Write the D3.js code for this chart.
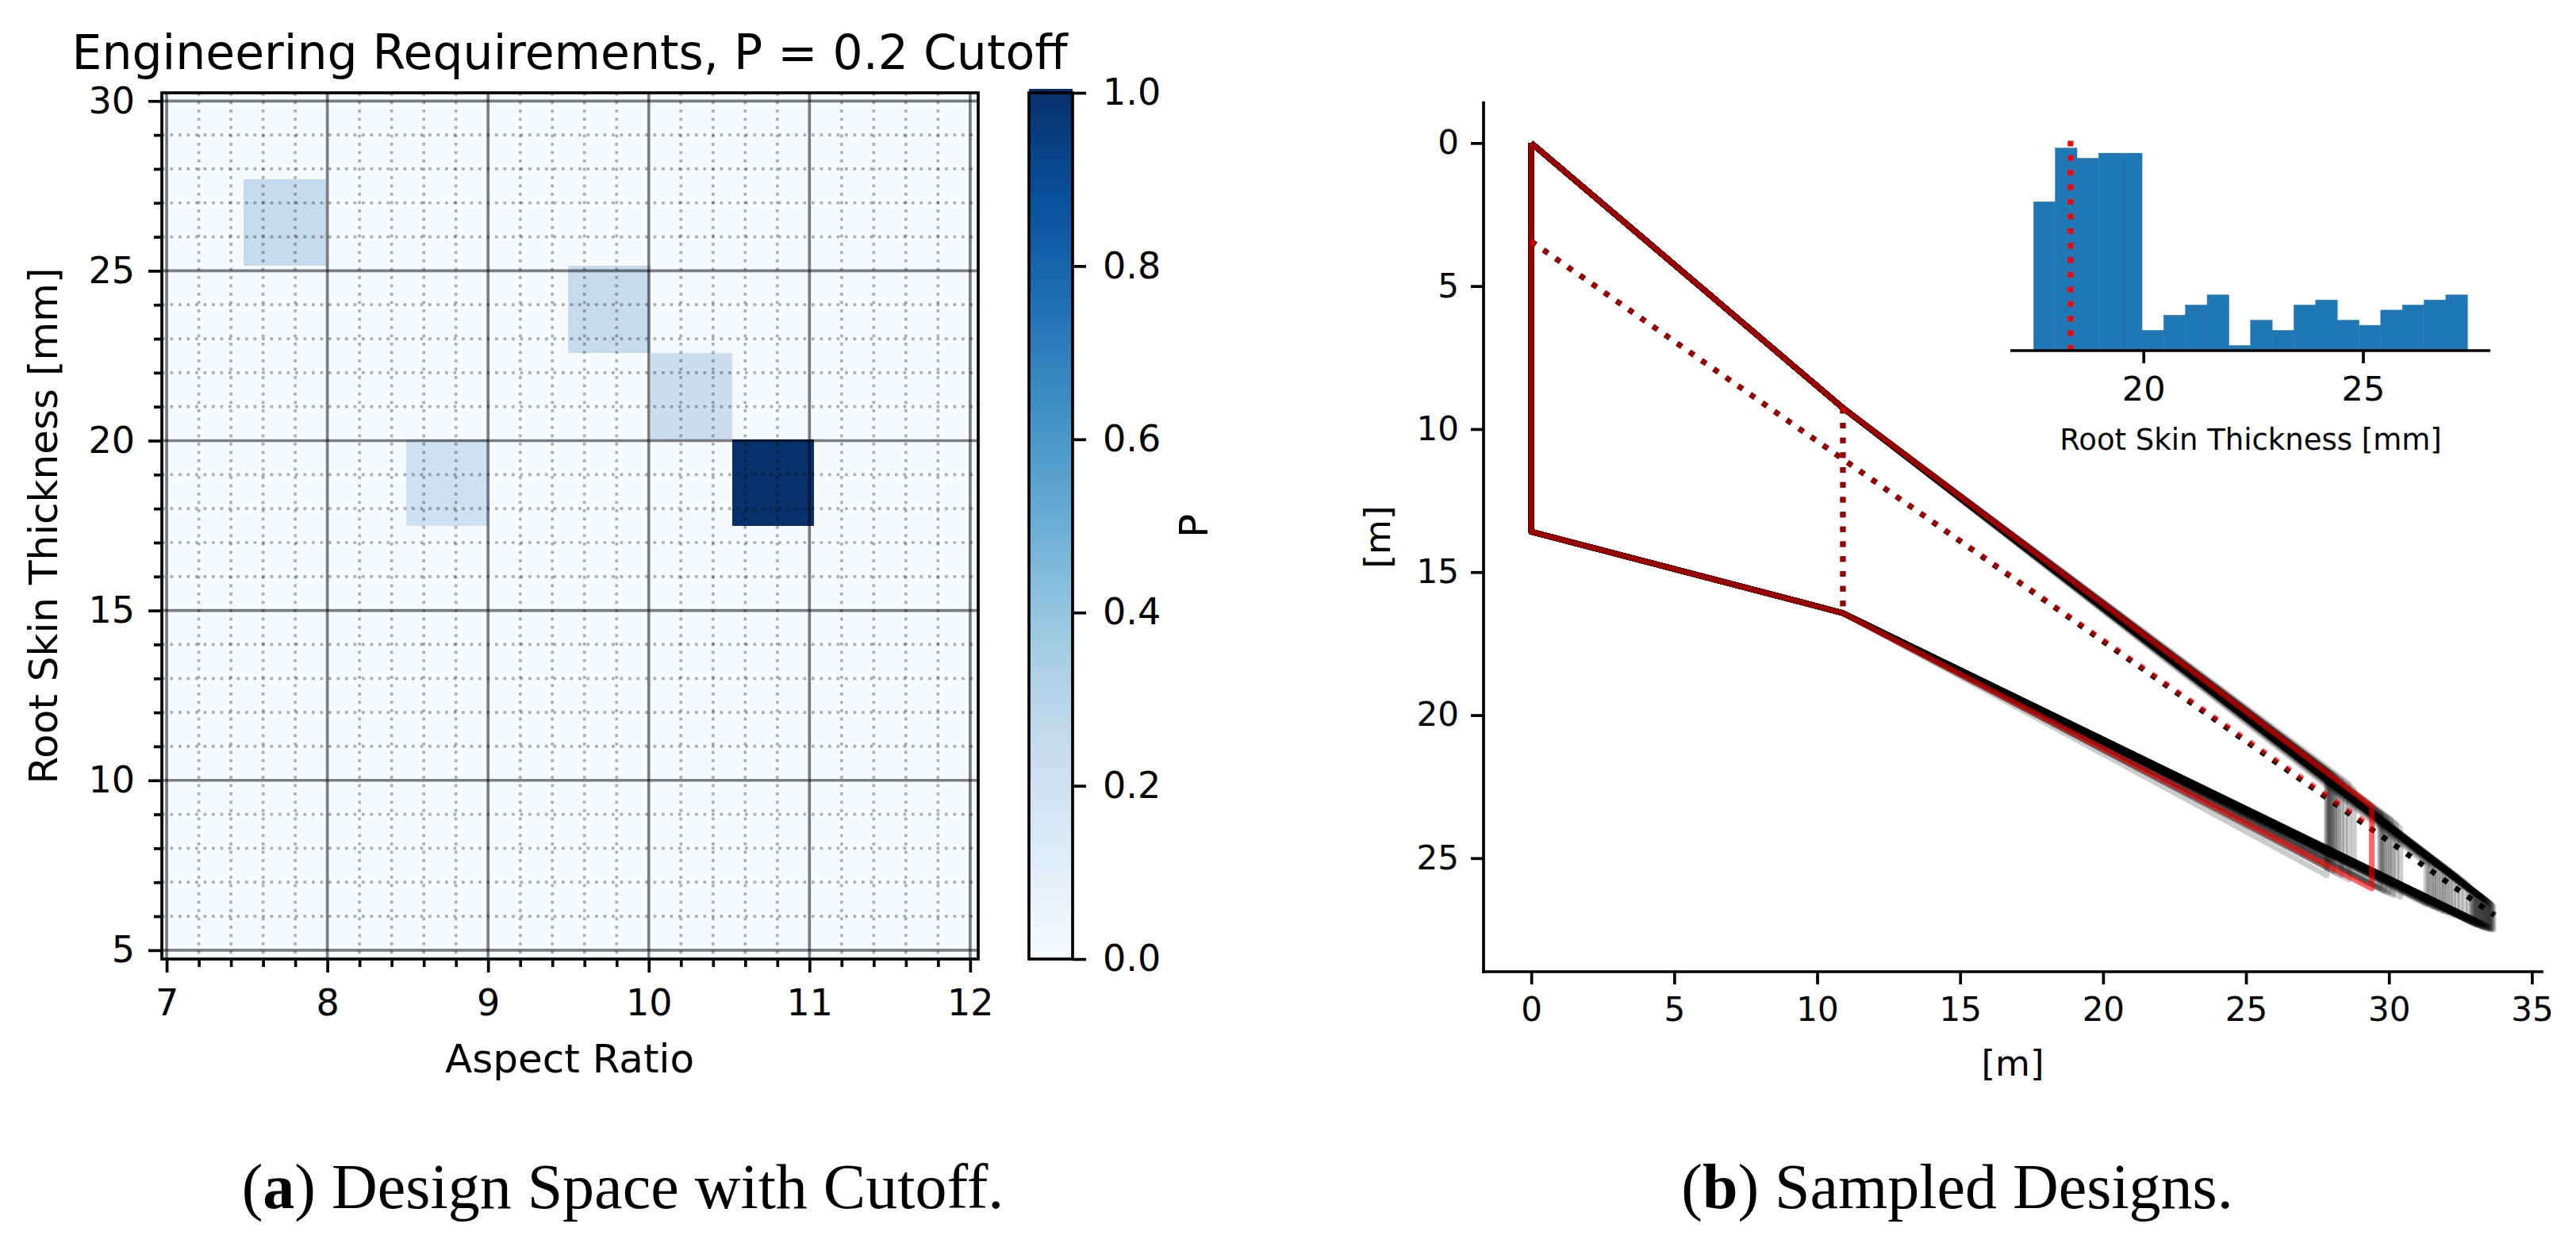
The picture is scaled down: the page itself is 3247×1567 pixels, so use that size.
<!DOCTYPE html>
<html>
<head>
<meta charset="utf-8">
<script src="https://cdn.jsdelivr.net/npm/d3@7"></script>
<style>
    body { margin: 0; background: white; }
    text { font-family: "DejaVu Sans"; fill: black; }
    .caption { font-family: "Liberation Serif"; }
</style>
</head>
<body>
<div id="chart"></div>
<script>
// design space cells, (a)
const x_edges = [6.97, 7.48, 7.99, 8.49, 9.0, 9.5, 10.01, 10.52, 11.03, 11.54, 12.05]
const y_edges = [4.74, 7.29, 9.84, 12.39, 14.94, 17.49, 20.04, 22.59, 25.14, 27.69, 30.24]
// one row per y bin, top row first
const p_values = [
    [0, 0, 0, 0, 0, 0, 0, 0, 0, 0],
    [0, 0.25, 0, 0, 0, 0, 0, 0, 0, 0],
    [0, 0, 0, 0, 0, 0.25, 0, 0, 0, 0],
    [0, 0, 0, 0, 0, 0, 0.23, 0, 0, 0],
    [0, 0, 0, 0.21, 0, 0, 0, 1.0, 0, 0],
    [0, 0, 0, 0, 0, 0, 0, 0, 0, 0],
    [0, 0, 0, 0, 0, 0, 0, 0, 0, 0],
    [0, 0, 0, 0, 0, 0, 0, 0, 0, 0],
    [0, 0, 0, 0, 0, 0, 0, 0, 0, 0],
    [0, 0, 0, 0, 0, 0, 0, 0, 0, 0]
]
const x_ticks = [7, 8, 9, 10, 11, 12]
const x_minor = [7.2, 7.4, 7.6, 7.8, 8.2, 8.4, 8.6, 8.8, 9.2, 9.4, 9.6, 9.8, 10.2, 10.4, 10.6, 10.8, 11.2, 11.4, 11.6, 11.8]
const y_ticks = [5, 10, 15, 20, 25, 30]
const y_minor = [6, 7, 8, 9, 11, 12, 13, 14, 16, 17, 18, 19, 21, 22, 23, 24, 26, 27, 28, 29]
const p_ticks = [0, 0.2, 0.4, 0.6, 0.8, 1]
const blues = ['#f7fbff', '#deebf7', '#c6dbef', '#9ecae1', '#6baed6', '#4292c6', '#2171b5', '#08519c', '#08306b']

// wing planform, (b): root and kink are shared, the tips vary
const root_le = 0, root_te = 13.59, root_qc = 3.44
const kink_x = 10.9, kink_le = 9.26, kink_te = 16.43, kink_qc = 11.05
const base_tip_x = 29.4, base_tip_le = 23.19, base_tip_te = 26.06, base_tip_qc = 23.9
const far_tip_x = 33.7, far_tip_qc = 27.0
const sample_span = [
    27.82, 27.85, 27.88, 27.92, 27.96, 28.0, 28.05, 28.1, 28.16, 28.24, 28.34, 28.46, 28.6, 28.78,
    29.68, 29.72, 29.76, 29.82, 29.9, 29.98, 30.06, 30.14, 30.26, 30.4,
    31.3, 31.38, 31.46, 31.55, 31.62, 31.7, 31.8, 31.88, 31.96, 32.05, 32.15, 32.25, 32.38, 32.5, 32.65, 32.8,
    32.9, 32.94, 32.98, 33.0, 33.04, 33.08, 33.1, 33.14, 33.18, 33.2, 33.24, 33.27, 33.3, 33.33, 33.36, 33.39, 33.42, 33.45, 33.48, 33.5, 33.53, 33.56, 33.59, 33.62, 33.66
]
const sample_le = [
    22.0, 22.2, 22.05, 22.28, 22.05, 22.32, 22.1, 22.4, 22.2, 22.5, 22.3, 22.55, 22.4, 22.6,
    23.45, 23.7, 23.5, 23.73, 23.6, 23.8, 23.65, 23.85, 23.8, 23.95,
    25.05, 25.25, 25.1, 25.3, 25.2, 25.35, 25.3, 25.4, 25.4, 25.5, 25.5, 25.6, 25.65, 25.75, 25.85, 25.95,
    26.2, 26.15, 26.25, 26.2, 26.3, 26.25, 26.33, 26.28, 26.38, 26.32, 26.42, 26.38, 26.45, 26.42, 26.5, 26.46, 26.52, 26.5, 26.56, 26.55, 26.6, 26.58, 26.63, 26.65, 26.7
]
const sample_te = [
    25.6, 24.66, 25.3, 24.9, 25.05, 24.75, 25.45, 25.0, 24.85, 24.82, 25.6, 25.2, 25.75, 25.25,
    26.05, 25.56, 25.8, 26.15, 25.7, 26.2, 25.9, 26.3, 25.82, 26.35,
    26.62, 26.4, 26.55, 26.7, 26.5, 26.75, 26.62, 26.85, 26.72, 26.9, 26.82, 27.0, 26.92, 27.05, 27.1, 27.2,
    27.25, 27.15, 27.3, 27.18, 27.32, 27.22, 27.35, 27.25, 27.36, 27.28, 27.4, 27.3, 27.42, 27.33, 27.44, 27.36, 27.46, 27.38, 27.48, 27.42, 27.48, 27.44, 27.5, 27.46, 27.5
]
const wing_x_ticks = [0, 5, 10, 15, 20, 25, 30, 35]
const wing_y_ticks = [0, 5, 10, 15, 20, 25]

// histogram inset
const hist_left = 17.5
const hist_bin = 0.494
const hist_counts = [29.4, 40, 38, 39, 39, 4, 7, 9, 11, 1, 6, 4, 9, 10, 6, 5, 8, 9, 10, 11]
const hist_ticks = [20, 25]
const hist_marker = 18.34

const line_w = 3.7

const svg = d3.select('#chart').append('svg')
    .attr('width', 3247).attr('height', 1567)

function style_axis(g, font_size) {
    g.select('.domain').remove()
    g.selectAll('line').attr('stroke', 'black').attr('stroke-width', line_w)
    g.selectAll('text').attr('font-size', font_size).attr('font-family', 'DejaVu Sans')
}

// ---------- (a) heatmap
function draw_design_space() {
    const x = d3.scaleLinear().domain([6.97, 12.05]).range([204, 1233])
    const y = d3.scaleLinear().domain([4.74, 30.24]).range([1209, 117])
    const color = d3.scaleLinear()
        .domain(blues.map((d, i) => i / (blues.length - 1)))
        .range(blues)

    const cells = []
    p_values.forEach((row, r) => row.forEach((p, c) => cells.push({
        x0: x_edges[c], x1: x_edges[c + 1],
        y0: y_edges[9 - r], y1: y_edges[10 - r], p: p
    })))
    svg.append('g').selectAll('rect').data(cells).join('rect')
        .attr('x', d => x(d.x0)).attr('y', d => y(d.y1))
        .attr('width', d => x(d.x1) - x(d.x0)).attr('height', d => y(d.y0) - y(d.y1))
        .attr('fill', d => color(d.p))
        .attr('shape-rendering', 'crispEdges')

    const grid = svg.append('g')
    function grid_lines(values, vertical, width, opacity, dash) {
        grid.append('g').selectAll('line').data(values).join('line')
            .attr('x1', d => vertical ? x(d) : 204).attr('x2', d => vertical ? x(d) : 1233)
            .attr('y1', d => vertical ? 117 : y(d)).attr('y2', d => vertical ? 1209 : y(d))
            .attr('stroke', 'black').attr('stroke-width', width).attr('stroke-opacity', opacity)
            .attr('stroke-dasharray', dash)
    }
    grid_lines(x_minor, true, line_w, 0.3, '3.7,6.8')
    grid_lines(y_minor, false, line_w, 0.3, '3.7,6.8')
    grid_lines(x_ticks, true, line_w, 0.5, null)
    grid_lines(y_ticks, false, line_w, 0.5, null)

    svg.append('rect').attr('x', 204).attr('y', 117).attr('width', 1029).attr('height', 1092)
        .attr('fill', 'none').attr('stroke', 'black').attr('stroke-width', line_w)

    svg.append('g').attr('transform', 'translate(0,1209)')
        .call(d3.axisBottom(x).tickValues(x_ticks).tickFormat(d3.format('d')).tickSize(17).tickPadding(21))
        .call(style_axis, 46)
    svg.append('g').attr('transform', 'translate(0,1209)')
        .call(d3.axisBottom(x).tickValues(x_minor).tickFormat('').tickSize(10))
        .call(style_axis, 46)
    svg.append('g').attr('transform', 'translate(204,0)')
        .call(d3.axisLeft(y).tickValues(y_ticks).tickFormat(d3.format('d')).tickSize(17).tickPadding(17))
        .call(style_axis, 46)
    svg.append('g').attr('transform', 'translate(204,0)')
        .call(d3.axisLeft(y).tickValues(y_minor).tickFormat('').tickSize(10))
        .call(style_axis, 46)

    svg.append('text').attr('x', 718).attr('y', 87).attr('text-anchor', 'middle')
        .attr('font-size', 60).text('Engineering Requirements, P = 0.2 Cutoff')
    svg.append('text').attr('x', 718).attr('y', 1352).attr('text-anchor', 'middle')
        .attr('font-size', 50).text('Aspect Ratio')
    svg.append('text').attr('transform', 'translate(72,663) rotate(-90)').attr('text-anchor', 'middle')
        .attr('font-size', 50).text('Root Skin Thickness [mm]')

    // colorbar
    const p_scale = d3.scaleLinear().domain([0, 1]).range([1209, 117])
    const steps = d3.range(256).map(i => i / 255)
    svg.append('g').selectAll('rect').data(steps).join('rect')
        .attr('x', 1297).attr('width', 55)
        .attr('y', d => p_scale(d) - 5).attr('height', 6)
        .attr('fill', d => color(d))
    svg.append('rect').attr('x', 1297).attr('y', 117).attr('width', 55).attr('height', 1092)
        .attr('fill', 'none').attr('stroke', 'black').attr('stroke-width', line_w)
    svg.append('g').attr('transform', 'translate(1352,0)')
        .call(d3.axisRight(p_scale).tickValues(p_ticks).tickFormat(d3.format('.1f')).tickSize(17).tickPadding(21))
        .call(style_axis, 46)
    svg.append('text').attr('transform', 'translate(1522,663) rotate(-90)').attr('text-anchor', 'middle')
        .attr('font-size', 50).text('P')
}

// ---------- (b) sampled wings
function draw_wings() {
    const x = d3.scaleLinear().domain([-1.67, 35.35]).range([1870, 3204])
    const y = d3.scaleLinear().domain([28.97, -1.41]).range([1225, 129.5])
    const line = d3.line().x(d => x(d[0])).y(d => y(d[1]))

    function outline(tip_x, tip_le, tip_te) {
        return [[0, root_le], [kink_x, kink_le], [tip_x, tip_le], [tip_x, tip_te], [kink_x, kink_te], [0, root_te], [0, root_le]]
    }

    const samples = svg.append('g')
    samples.selectAll('path').data(sample_span).join('path')
        .attr('d', (d, i) => line(outline(d, sample_le[i], sample_te[i])))
        .attr('fill', 'none').attr('stroke', 'black').attr('stroke-width', 7)
        .attr('stroke-opacity', 0.2).attr('stroke-linejoin', 'round')
    samples.append('path')
        .attr('d', line([[0, root_qc], [kink_x, kink_qc], [far_tip_x, far_tip_qc]]))
        .attr('fill', 'none').attr('stroke', 'black').attr('stroke-width', 7)
        .attr('stroke-dasharray', '7,11.7')
    samples.append('path')
        .attr('d', line([[kink_x, kink_le], [kink_x, kink_te]]))
        .attr('fill', 'none').attr('stroke', 'black').attr('stroke-width', 7)
        .attr('stroke-dasharray', '7,11.7')

    const base = svg.append('g').attr('fill', 'none').attr('stroke', 'red')
        .attr('stroke-width', 7).attr('stroke-opacity', 0.6)
    base.append('path').attr('d', line(outline(base_tip_x, base_tip_le, base_tip_te)))
        .attr('stroke-linejoin', 'round')
    base.append('path').attr('d', line([[0, root_qc], [kink_x, kink_qc], [base_tip_x, base_tip_qc]]))
        .attr('stroke-dasharray', '7,11.7')
    base.append('path').attr('d', line([[kink_x, kink_le], [kink_x, kink_te]]))
        .attr('stroke-dasharray', '7,11.7')

    svg.append('g').attr('transform', 'translate(0,1225)')
        .call(d3.axisBottom(x).tickValues(wing_x_ticks).tickSize(16).tickPadding(16))
        .call(style_axis, 42)
    svg.append('g').attr('transform', 'translate(1870,0)')
        .call(d3.axisLeft(y).tickValues(wing_y_ticks).tickSize(16).tickPadding(15))
        .call(style_axis, 42)
    svg.append('line').attr('x1', 1870).attr('x2', 3204).attr('y1', 1225).attr('y2', 1225)
        .attr('stroke', 'black').attr('stroke-width', line_w).attr('stroke-linecap', 'square')
    svg.append('line').attr('x1', 1870).attr('x2', 1870).attr('y1', 129.5).attr('y2', 1225)
        .attr('stroke', 'black').attr('stroke-width', line_w).attr('stroke-linecap', 'square')

    svg.append('text').attr('x', 2537).attr('y', 1356).attr('text-anchor', 'middle')
        .attr('font-size', 45).text('[m]')
    svg.append('text').attr('transform', 'translate(1752,677) rotate(-90)').attr('text-anchor', 'middle')
        .attr('font-size', 45).text('[m]')
}

// ---------- inset histogram
function draw_inset() {
    const x = d3.scaleLinear().domain([16.97, 27.9]).range([2534, 3139])
    const y = d3.scaleLinear().domain([0, 40]).range([442, 186.7])

    svg.append('g').selectAll('rect').data(hist_counts).join('rect')
        .attr('x', (d, i) => x(hist_left + i * hist_bin))
        .attr('width', x(hist_bin) - x(0))
        .attr('y', d => y(d)).attr('height', d => y(0) - y(d))
        .attr('fill', '#1f77b4').attr('stroke', '#1f77b4').attr('stroke-width', 0.5)

    svg.append('line').attr('x1', x(hist_marker)).attr('x2', x(hist_marker))
        .attr('y1', y(0)).attr('y2', y(41.6))
        .attr('stroke', 'red').attr('stroke-width', 7).attr('stroke-dasharray', '7,11.4')

    svg.append('g').attr('transform', 'translate(0,442)')
        .call(d3.axisBottom(x).tickValues(hist_ticks).tickSize(16).tickPadding(16))
        .call(style_axis, 43)
    svg.append('line').attr('x1', 2534).attr('x2', 3139).attr('y1', 442).attr('y2', 442)
        .attr('stroke', 'black').attr('stroke-width', line_w)
    svg.append('text').attr('x', 2837).attr('y', 567).attr('text-anchor', 'middle')
        .attr('font-size', 37).text('Root Skin Thickness [mm]')
}

function draw_caption(x, letter, rest) {
    const t = svg.append('text').attr('class', 'caption').attr('x', x).attr('y', 1523)
        .attr('text-anchor', 'middle').attr('font-size', 80)
        .style('font-family', '"Liberation Serif"')
    t.append('tspan').text('(')
    t.append('tspan').attr('font-weight', 'bold').text(letter)
    t.append('tspan').text(') ' + rest)
}

draw_design_space()
draw_wings()
draw_inset()
draw_caption(785, 'a', 'Design Space with Cutoff.')
draw_caption(2467, 'b', 'Sampled Designs.')
</script>
</body>
</html>
